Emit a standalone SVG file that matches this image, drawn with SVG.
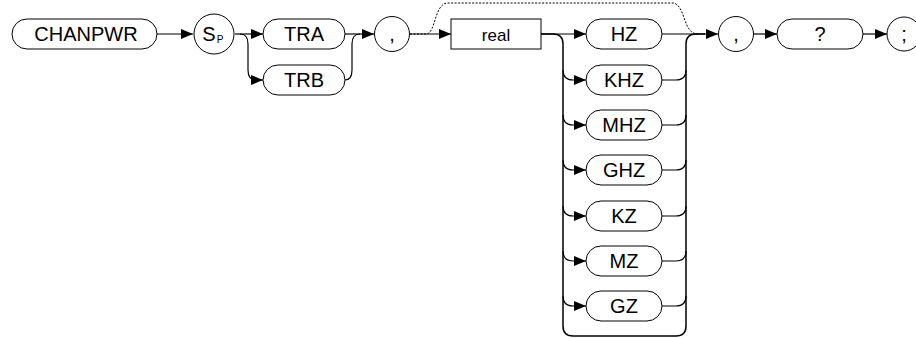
<svg xmlns="http://www.w3.org/2000/svg" width="916" height="338" viewBox="0 0 916 338">
<style>
.n{fill:#fff;stroke:#000;stroke-width:1}
.t{font-family:"Liberation Sans",Arial,sans-serif;font-size:20px;fill:#000;text-anchor:middle}
.c path{fill:none;stroke:#000;stroke-width:1.2}
.c .a{marker-end:url(#ah)}
.c .d{stroke-dasharray:2 1.5;stroke-width:1}
.c .b{stroke-width:1.5}
</style>
<defs>
<marker id="ah" markerUnits="userSpaceOnUse" markerWidth="13" markerHeight="11" refX="12" refY="5.5" orient="auto">
<path d="M0,0.5 L12,5.5 L0,10.5 z" fill="#000"/>
</marker>
</defs>
<rect width="916" height="338" fill="#fff"/>
<g class="c" id="connectors">
<path class="a" d="M157 34 H193"/>
<path class="a" d="M235 34 H263"/>
<path class="a" d="M240 34 Q248 34 248 44 V70 Q248 80 256 80 H263"/>
<path class="a" d="M345 34 H374"/>
<path d="M345 80 Q352 80 352 70 V44 Q352 34 360 34"/>
<path class="a" d="M410 34 H451"/>
<path class="d" d="M410 34 H426 C436 34 434 3 448 3 H672 C686 3 682 34 698 34"/>
<path class="a" d="M541 34 H586"/>
<path class="b" d="M541 34 H553 Q563 34 563 44 V326 Q563 336 573 336 H676 Q686 336 686 326 V44 Q686 34 696 34 H705"/>
<path class="a" d="M662 34 H718"/>
<path class="a" d="M563 70 Q563 80 573 80 H586"/>
<path class="a" d="M563 115 Q563 125 573 125 H586"/>
<path class="a" d="M563 160 Q563 170 573 170 H586"/>
<path class="a" d="M563 206 Q563 216 573 216 H586"/>
<path class="a" d="M563 251 Q563 261 573 261 H586"/>
<path class="a" d="M563 296 Q563 306 573 306 H586"/>
<path d="M662 80 H676 Q686 80 686 70"/>
<path d="M662 125 H676 Q686 125 686 115"/>
<path d="M662 170 H676 Q686 170 686 160"/>
<path d="M662 216 H676 Q686 216 686 206"/>
<path d="M662 261 H676 Q686 261 686 251"/>
<path d="M662 306 H676 Q686 306 686 296"/>
<path class="a" d="M753 34 H777"/>
<path class="a" d="M863 34 H887"/>
</g>
<g id="chanpwr"><rect class="n" x="12" y="19" width="145" height="30" rx="15"/><text class="t" x="86" y="41">CHANPWR</text></g>
<g id="sp"><circle class="n" cx="214" cy="34" r="20"/><text class="t" x="209" y="41">S</text><text class="t" x="220" y="43" style="font-size:10px">P</text></g>
<g id="tra"><rect class="n" x="263" y="19" width="82" height="30" rx="15"/><text class="t" x="304" y="41">TRA</text></g>
<g id="trb"><rect class="n" x="263" y="65" width="82" height="30" rx="15"/><text class="t" x="304" y="87">TRB</text></g>
<g id="comma1"><circle class="n" cx="392" cy="34" r="17.5"/><text class="t" x="392" y="41">,</text></g>
<g id="real"><rect class="n" x="451" y="19" width="90" height="30"/><text class="t" x="496" y="41" style="font-size:17px">real</text></g>
<g id="hz"><rect class="n" x="586" y="19" width="76" height="30" rx="15"/><text class="t" x="624" y="41">HZ</text></g>
<g id="khz"><rect class="n" x="586" y="65" width="76" height="30" rx="15"/><text class="t" x="624" y="87">KHZ</text></g>
<g id="mhz"><rect class="n" x="586" y="110" width="76" height="30" rx="15"/><text class="t" x="624" y="132">MHZ</text></g>
<g id="ghz"><rect class="n" x="586" y="155" width="76" height="30" rx="15"/><text class="t" x="624" y="177">GHZ</text></g>
<g id="kz"><rect class="n" x="586" y="201" width="76" height="30" rx="15"/><text class="t" x="624" y="223">KZ</text></g>
<g id="mz"><rect class="n" x="586" y="246" width="76" height="30" rx="15"/><text class="t" x="624" y="268">MZ</text></g>
<g id="gz"><rect class="n" x="586" y="291" width="76" height="30" rx="15"/><text class="t" x="624" y="313">GZ</text></g>
<g id="comma2"><circle class="n" cx="736" cy="34" r="17.5"/><text class="t" x="736" y="41">,</text></g>
<g id="query"><rect class="n" x="777" y="19" width="86" height="30" rx="15"/><text class="t" x="820" y="41">?</text></g>
<g id="semi"><circle class="n" cx="904" cy="34" r="17"/><text class="t" x="904" y="41">;</text></g>
</svg>
